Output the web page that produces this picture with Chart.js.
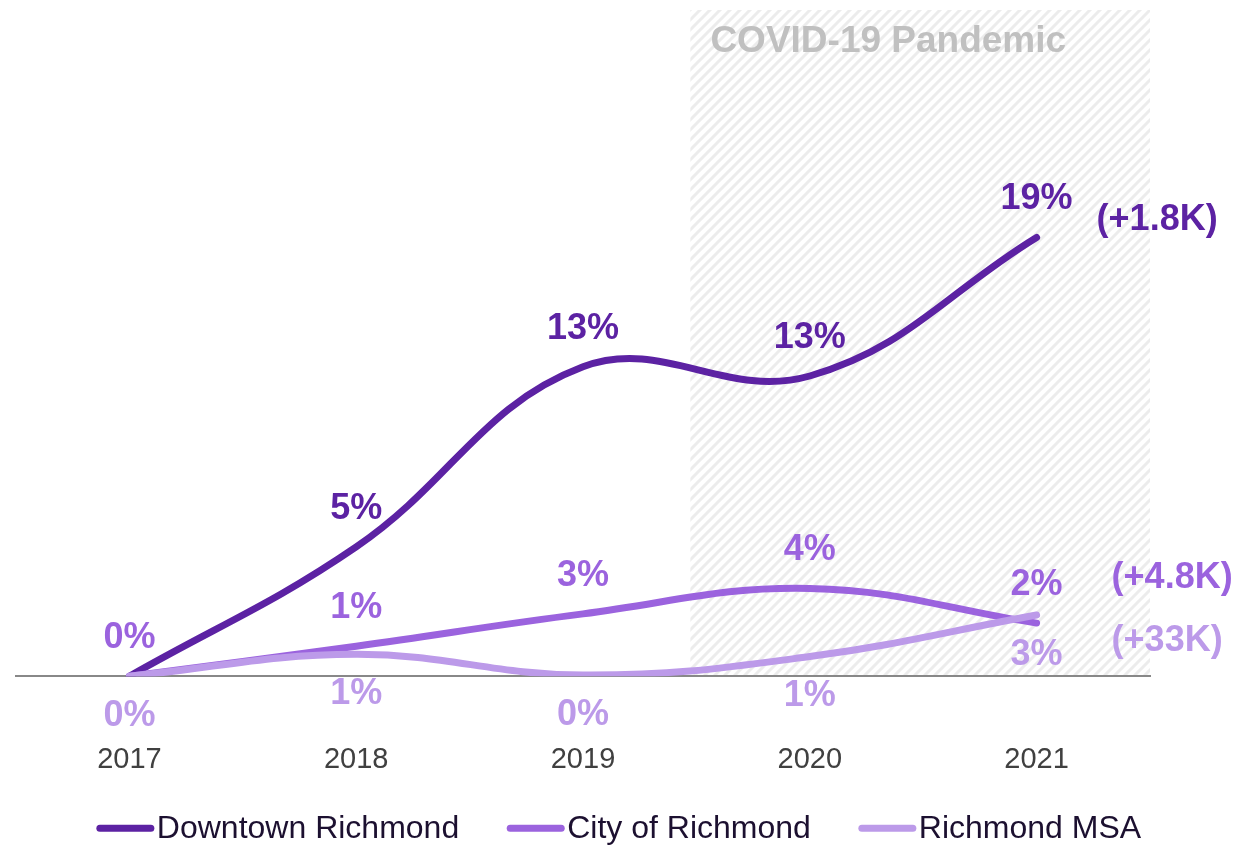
<!DOCTYPE html>
<html>
<head>
<meta charset="utf-8">
<script src="https://cdn.jsdelivr.net/npm/chart.js@4.4.0/dist/chart.umd.min.js"></script>
<style>
html, body { margin: 0; padding: 0; background: #fff; }
#wrap { width: 1258px; height: 846px; }
</style>
</head>
<body>
<div id="wrap"><canvas id="growthChart"></canvas></div>
<script>
var years = ["2017", "2018", "2019", "2020", "2021"];
var downtown = [0, 5.6, 13.4, 13.0, 19.0];
var city = [0, 1.3, 2.7, 3.8, 2.3];
var msa = [0, 0.95, 0.05, 0.85, 2.65];
var downtownLabels = ["", "5%", "13%", "13%", "19%"];
var cityLabels = ["0%", "1%", "3%", "4%", "2%"];
var msaLabels = ["0%", "1%", "0%", "1%", "3%"];
var totals = ["(+1.8K)", "(+4.8K)", "(+33K)"];

var FONT = "'Liberation Sans', Arial, sans-serif";
var colors = ['#5c22a3', '#9b63de', '#bc9ae9'];

// striped background for the pandemic years
var hatch = document.createElement('canvas');
hatch.width = 10; hatch.height = 10;
var hc = hatch.getContext('2d');
hc.fillStyle = '#fff';
hc.fillRect(0, 0, 10, 10);
hc.strokeStyle = '#ececec';
hc.lineWidth = 3;
hc.beginPath();
hc.moveTo(-1, 11); hc.lineTo(11, -1);
hc.moveTo(-1, 1); hc.lineTo(1, -1);
hc.moveTo(9, 11); hc.lineTo(11, 9);
hc.stroke();

var pandemicBox = {
    id: 'pandemicBox',
    beforeDraw: function (chart) {
        var c = chart.ctx, a = chart.chartArea, x = chart.scales.x;
        var x0 = (x.getPixelForValue(2) + x.getPixelForValue(3)) / 2 - 6;
        c.save();
        c.fillStyle = c.createPattern(hatch, 'repeat');
        c.fillRect(x0, a.top, a.right - x0, a.bottom - a.top);
        c.fillStyle = '#c0c0c0';
        c.font = 'bold 37px ' + FONT;
        c.textAlign = 'left';
        c.textBaseline = 'middle';
        c.fillText('COVID-19 Pandemic', x0 + 20, a.top + 32);
        c.restore();
    }
};

var valueLabels = {
    id: 'valueLabels',
    afterDatasetsDraw: function (chart) {
        var c = chart.ctx;
        var sets = [[downtownLabels, -38], [cityLabels, -38], [msaLabels, 40]];
        c.save();
        c.font = 'bold 36px ' + FONT;
        c.textAlign = 'center';
        c.textBaseline = 'middle';
        sets.forEach(function (s, i) {
            var pts = chart.getDatasetMeta(i).data;
            c.fillStyle = colors[i];
            pts.forEach(function (p, j) {
                if (s[0][j]) c.fillText(s[0][j], p.x, p.y + s[1]);
            });
        });
        // totals at the right of each line
        var offs = [[60, -17], [75, -45], [75, 26]];
        c.textAlign = 'left';
        totals.forEach(function (t, i) {
            var pts = chart.getDatasetMeta(i).data;
            var last = pts[pts.length - 1];
            c.fillStyle = colors[i];
            c.fillText(t, last.x + offs[i][0], last.y + offs[i][1]);
        });
        c.restore();
    }
};

var bottomLegend = {
    id: 'bottomLegend',
    afterDraw: function (chart) {
        var c = chart.ctx;
        var names = chart.data.datasets.map(function (d) { return d.label; });
        c.save();
        c.font = '32px ' + FONT;
        var lineLen = 57, gap = 3, space = 48;
        var total = 0;
        names.forEach(function (n, i) {
            total += lineLen + gap + c.measureText(n).width + (i < names.length - 1 ? space : 0);
        });
        var x = chart.width / 2 - 10 - total / 2;
        var y = chart.chartArea.bottom + 152;
        c.textBaseline = 'middle';
        c.textAlign = 'left';
        names.forEach(function (n, i) {
            c.strokeStyle = colors[i];
            c.lineWidth = 7;
            c.lineCap = 'round';
            c.beginPath();
            c.moveTo(x + 3, y);
            c.lineTo(x + lineLen - 3, y);
            c.stroke();
            x += lineLen + gap;
            c.fillStyle = '#1c1030';
            c.fillText(n, x, y + 1);
            x += c.measureText(n).width + space;
        });
        c.restore();
    }
};

var ctx = document.getElementById('growthChart');
var growthChart = new Chart(ctx, {
    type: 'line',
    data: {
        labels: years,
        datasets: [{
            label: 'Downtown Richmond',
            data: downtown,
            borderColor: colors[0],
            borderWidth: 7,
            tension: 0.4,
            pointRadius: 0,
            borderCapStyle: 'round',
            order: 2
        }, {
            label: 'City of Richmond',
            data: city,
            borderColor: colors[1],
            borderWidth: 7,
            tension: 0.4,
            pointRadius: 0,
            borderCapStyle: 'round',
            order: 1
        }, {
            label: 'Richmond MSA',
            data: msa,
            borderColor: colors[2],
            borderWidth: 7,
            tension: 0.4,
            pointRadius: 0,
            borderCapStyle: 'round',
            order: 0
        }]
    },
    options: {
        responsive: true,
        maintainAspectRatio: false,
        animation: false,
        layout: { padding: { left: 16, right: 108, top: 10, bottom: 3 } },
        plugins: {
            legend: { display: false },
            tooltip: { enabled: false }
        },
        scales: {
            x: {
                offset: true,
                grid: { display: false, drawTicks: false },
                border: { display: true, color: '#888888', width: 2 },
                ticks: {
                    padding: 66,
                    color: '#404040',
                    font: { family: FONT, size: 29 }
                }
            },
            y: {
                display: false,
                min: 0,
                max: 28.85
            }
        }
    },
    plugins: [pandemicBox, valueLabels, bottomLegend]
});
</script>
</body>
</html>
